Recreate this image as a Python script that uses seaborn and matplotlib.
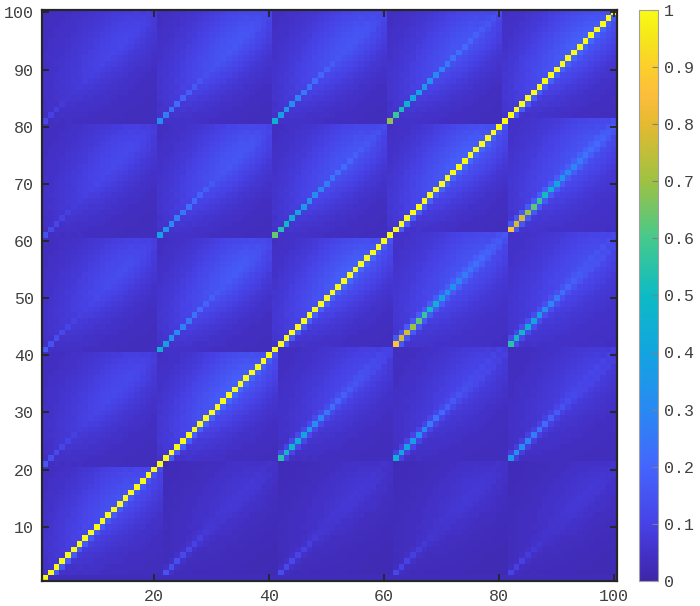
import numpy as np
import matplotlib
matplotlib.use('Agg')
import matplotlib.pyplot as plt
import seaborn as sns
from matplotlib.colors import LinearSegmentedColormap

# matrix layout: 5 groups of 20 items
n_groups = 5
group_size = 20

# start value of the lag-diagonal inside each block, rows = y block (bottom->top), cols = x block
diag_peak = [
    [1.00, 0.15, 0.13, 0.11, 0.10],
    [0.16, 1.00, 0.55, 0.45, 0.36],
    [0.17, 0.44, 1.00, 0.87, 0.55],
    [0.14, 0.40, 0.64, 1.00, 0.87],
    [0.11, 0.31, 0.45, 0.68, 1.00],
]
# darkest level of each block
block_base = [
    [0.03, 0.02, 0.02, 0.02, 0.02],
    [0.03, 0.03, 0.03, 0.03, 0.03],
    [0.03, 0.03, 0.03, 0.04, 0.04],
    [0.03, 0.03, 0.03, 0.03, 0.04],
    [0.03, 0.03, 0.03, 0.03, 0.03],
]
# extra brightness of the soft blob in each block
block_lift = [
    [0.12, 0.05, 0.05, 0.05, 0.05],
    [0.09, 0.16, 0.09, 0.08, 0.07],
    [0.10, 0.14, 0.16, 0.12, 0.10],
    [0.09, 0.13, 0.13, 0.16, 0.12],
    [0.08, 0.13, 0.13, 0.13, 0.16],
]
# decay of the lag-diagonal along the block (upper / lower triangle)
upper_profile = [1.00, 0.85, 0.76, 0.68, 0.62, 0.57, 0.52, 0.48, 0.44, 0.41,
                 0.38, 0.35, 0.33, 0.31, 0.29, 0.27, 0.25, 0.23, 0.22, 0.20]
lower_profile = [1.00, 0.90, 0.90, 0.80, 0.72, 0.66, 0.58, 0.52, 0.46, 0.40,
                 0.36, 0.33, 0.30, 0.28, 0.26, 0.24, 0.22, 0.20, 0.19, 0.18]
# blob shape: along the diagonal, and across it (above / below)
blob_along = [0.15, 0.22, 0.30, 0.38, 0.46, 0.54, 0.62, 0.70, 0.77, 0.84,
              0.90, 0.95, 0.98, 1.00, 1.00, 0.97, 0.90, 0.80, 0.68, 0.55]
blob_up = [1.00, 0.96, 0.91, 0.85, 0.78, 0.71, 0.64, 0.57, 0.50, 0.44,
           0.38, 0.33, 0.28, 0.24, 0.20, 0.17, 0.14, 0.12, 0.10, 0.08]
blob_down = [1.00, 0.88, 0.76, 0.65, 0.55, 0.46, 0.38, 0.31, 0.25, 0.20,
             0.16, 0.13, 0.10, 0.08, 0.06, 0.05, 0.04, 0.03, 0.02, 0.02]
edge_level = 0.03

x_ticks = [20, 40, 60, 80, 100]
y_ticks = [10, 20, 30, 40, 50, 60, 70, 80, 90, 100]
cbar_ticks = [0, 0.1, 0.2, 0.3, 0.4, 0.5, 0.6, 0.7, 0.8, 0.9, 1]

parula_pos = [0.0, 0.05, 0.1, 0.2, 0.3, 0.4, 0.5, 0.6, 0.7, 0.8, 0.85, 0.9, 0.95, 1.0]
parula_rgb = [(0.2422, 0.1504, 0.6603), (0.2640, 0.1960, 0.7900), (0.2790, 0.2600, 0.9040),
              (0.2670, 0.3970, 0.9920), (0.1600, 0.5400, 0.9500), (0.0700, 0.6450, 0.8800),
              (0.0520, 0.7320, 0.7660), (0.2700, 0.7900, 0.5500), (0.6200, 0.7600, 0.2600),
              (0.8900, 0.7300, 0.1900), (0.9900, 0.7400, 0.2400), (0.9900, 0.8100, 0.1700),
              (0.9600, 0.9000, 0.1100), (0.9769, 0.9839, 0.0805)]
parula = LinearSegmentedColormap.from_list('parula', list(zip(parula_pos, parula_rgb)))

# build the matrix, M[y-1, x-1]
N = n_groups * group_size
M = np.zeros((N, N))
for y in range(1, N + 1):
    for x in range(1, N + 1):
        if x == y:
            M[y - 1, x - 1] = 1.0
            continue
        if y > x:
            bx, by = (x - 1) // group_size, (y - 1) // group_size
            i, j = (x - 1) % group_size, (y - 1) % group_size
            prof = upper_profile
        else:
            if y == 1:
                M[y - 1, x - 1] = edge_level
                continue
            bx, by = min((x - 2) // group_size, 4), (y - 2) // group_size
            i, j = (x - 2) % group_size, (y - 2) % group_size
            prof = lower_profile
        d = abs(i - j)
        p = (i + j) // 2
        across = blob_up[d] if j >= i else blob_down[d]
        val = block_base[by][bx] + block_lift[by][bx] * blob_along[p] * across
        if bx != by and i == j:
            val = max(val, diag_peak[by][bx] * prof[i])
        elif bx != by and d == 1 and y < x:
            val += 0.12 * diag_peak[by][bx] * prof[min(i, j)]
        elif bx == by and y < x and d == 1:
            val += 0.12 * prof[min(i, j)]
        M[y - 1, x - 1] = val

fig = plt.figure(figsize=(7, 6.06), dpi=100)
ax = fig.add_axes([42 / 700, 25 / 606, 575 / 700, 571.5 / 606])
cax = fig.add_axes([639 / 700, 25 / 606, 19 / 700, 571.5 / 606])

sns.heatmap(M, ax=ax, cbar_ax=cax, cmap=parula, vmin=0, vmax=1,
            xticklabels=False, yticklabels=False)
ax.invert_yaxis()

font = {'family': 'Liberation Mono', 'size': 12, 'color': '#404040'}
ax.set_xticks([v - 0.5 for v in x_ticks])
ax.set_xticklabels([str(v) for v in x_ticks], fontdict=font)
ax.set_yticks([v - 0.5 for v in y_ticks])
ax.set_yticklabels([str(v) for v in y_ticks], fontdict=font, rotation=0)
ax.tick_params(direction='in', top=True, right=True, length=5, width=1.3,
               color='#262626', pad=6)
for s in ax.spines.values():
    s.set_visible(True)
    s.set_linewidth(1.6)
    s.set_color('#262626')

cb = ax.collections[0].colorbar
cb.set_ticks(cbar_ticks)
cb.set_ticklabels(['0', '0.1', '0.2', '0.3', '0.4', '0.5', '0.6', '0.7', '0.8', '0.9', '1'])
cb.outline.set_linewidth(0.8)
cb.outline.set_edgecolor('#a0a0a0')
cax.tick_params(direction='in', length=4, width=0.8, color='#808080',
                labelsize=12, labelcolor='#404040', pad=4)
for lab in cax.get_yticklabels():
    lab.set_family('Liberation Mono')

fig.savefig('out.png', dpi=100)
